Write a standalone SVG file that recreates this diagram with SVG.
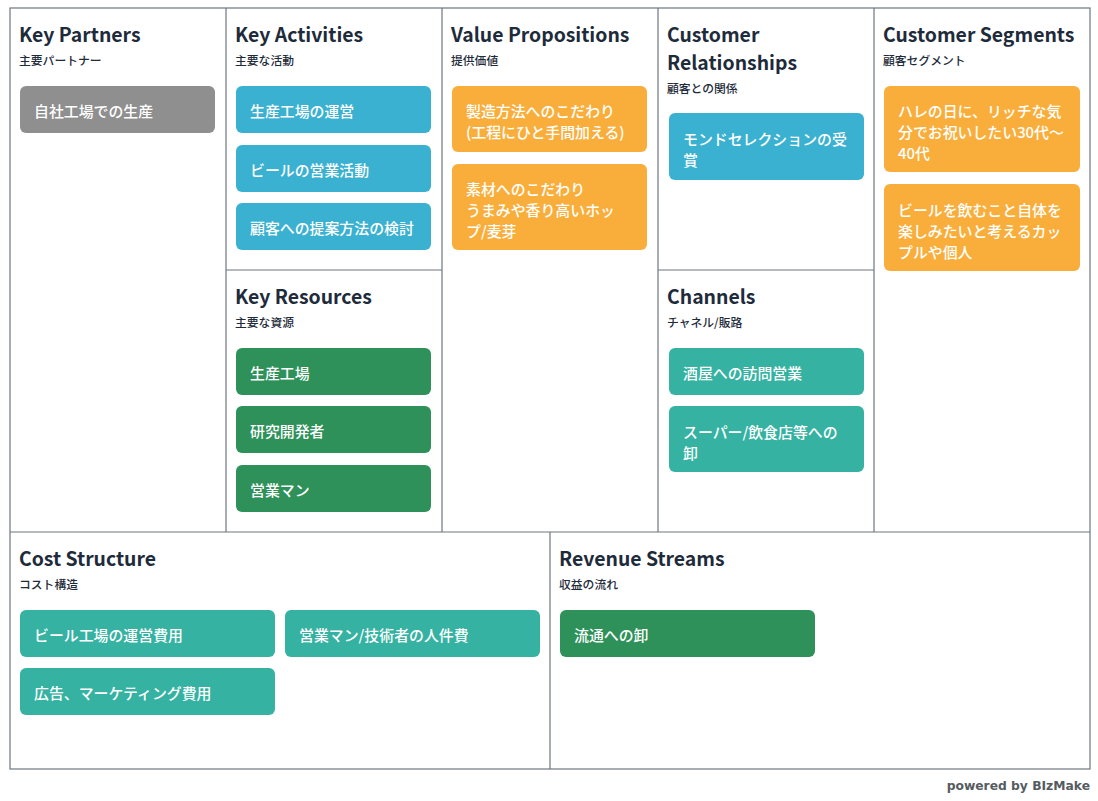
<svg xmlns="http://www.w3.org/2000/svg" width="1098" height="801" viewBox="0 0 1098 801">
<style>
.bg{fill:#ffffff}
.frame{fill:none;stroke:#6e7680;stroke-width:1.2}
.title{font-family:"Noto Sans CJK JP","Noto Sans",sans-serif;font-weight:700;font-size:19.4px;fill:#1e2b3a}
.sub{font-family:"Noto Sans CJK JP",sans-serif;font-weight:500;font-size:11.8px;fill:#1e2b3a}
.card text{font-family:"Noto Sans CJK JP",sans-serif;font-weight:500;font-size:14.9px;fill:#ffffff}
.gray{fill:#8f8f8f}
.blue{fill:#3bb1d1}
.green{fill:#2e9159}
.orange{fill:#f9ae3b}
.teal{fill:#35b2a1}
.pw{font-family:"DejaVu Sans","Noto Sans",sans-serif;font-weight:700;font-size:12.3px;fill:#555b61}
</style>
<rect class="bg" x="0" y="0" width="1098" height="801"/>
<g id="grid">
<rect class="frame" x="10" y="8" width="1080" height="761"/>
<line class="frame" x1="226" y1="8" x2="226" y2="532"/>
<line class="frame" x1="442" y1="8" x2="442" y2="532"/>
<line class="frame" x1="658" y1="8" x2="658" y2="532"/>
<line class="frame" x1="874" y1="8" x2="874" y2="532"/>
<line class="frame" x1="226" y1="270" x2="442" y2="270"/>
<line class="frame" x1="658" y1="270" x2="874" y2="270"/>
<line class="frame" x1="10" y1="532" x2="1090" y2="532"/>
<line class="frame" x1="550" y1="532" x2="550" y2="769"/>
</g>

<g id="key-partners">
<text class="title" x="19" y="42">Key Partners</text>
<text class="sub" x="19" y="65">主要パートナー</text>
<g class="card"><rect class="gray" x="20" y="86" width="195" height="47" rx="6"/><text x="34" y="117">自社工場での生産</text></g>
</g>

<g id="key-activities">
<text class="title" x="235" y="42">Key Activities</text>
<text class="sub" x="235" y="65">主要な活動</text>
<g class="card"><rect class="blue" x="236" y="86" width="195" height="47" rx="6"/><text x="250" y="117">生産工場の運営</text></g>
<g class="card"><rect class="blue" x="236" y="145" width="195" height="47" rx="6"/><text x="250" y="176">ビールの営業活動</text></g>
<g class="card"><rect class="blue" x="236" y="203" width="195" height="47" rx="6"/><text x="250" y="234">顧客への提案方法の検討</text></g>
</g>

<g id="key-resources">
<text class="title" x="235" y="304">Key Resources</text>
<text class="sub" x="235" y="327">主要な資源</text>
<g class="card"><rect class="green" x="236" y="348" width="195" height="47" rx="6"/><text x="250" y="379">生産工場</text></g>
<g class="card"><rect class="green" x="236" y="406" width="195" height="47" rx="6"/><text x="250" y="437">研究開発者</text></g>
<g class="card"><rect class="green" x="236" y="465" width="195" height="47" rx="6"/><text x="250" y="496">営業マン</text></g>
</g>

<g id="value-propositions">
<text class="title" x="451" y="42">Value Propositions</text>
<text class="sub" x="451" y="65">提供価値</text>
<g class="card"><rect class="orange" x="452" y="86" width="195" height="66" rx="6"/><text x="466" y="117">製造方法へのこだわり</text><text x="466" y="138">(工程にひと手間加える)</text></g>
<g class="card"><rect class="orange" x="452" y="164" width="195" height="86" rx="6"/><text x="466" y="195">素材へのこだわり</text><text x="466" y="216">うまみや香り高いホッ</text><text x="466" y="237">プ/麦芽</text></g>
</g>

<g id="customer-relationships">
<text class="title" x="667" y="42">Customer</text>
<text class="title" x="667" y="70">Relationships</text>
<text class="sub" x="667" y="93">顧客との関係</text>
<g class="card"><rect class="blue" x="669" y="113" width="195" height="67" rx="6"/><text x="683" y="145">モンドセレクションの受</text><text x="683" y="166">賞</text></g>
</g>

<g id="channels">
<text class="title" x="667" y="304">Channels</text>
<text class="sub" x="667" y="327">チャネル/販路</text>
<g class="card"><rect class="teal" x="669" y="348" width="195" height="47" rx="6"/><text x="683" y="379">酒屋への訪問営業</text></g>
<g class="card"><rect class="teal" x="669" y="406" width="195" height="66" rx="6"/><text x="683" y="438">スーパー/飲食店等への</text><text x="683" y="459">卸</text></g>
</g>

<g id="customer-segments">
<text class="title" x="883" y="42">Customer Segments</text>
<text class="sub" x="883" y="65">顧客セグメント</text>
<g class="card"><rect class="orange" x="884" y="86" width="196" height="86" rx="6"/><text x="898" y="117">ハレの日に、リッチな気</text><text x="898" y="138">分でお祝いしたい30代～</text><text x="898" y="159">40代</text></g>
<g class="card"><rect class="orange" x="884" y="184" width="196" height="87" rx="6"/><text x="898" y="216">ビールを飲むこと自体を</text><text x="898" y="237">楽しみたいと考えるカッ</text><text x="898" y="258">プルや個人</text></g>
</g>

<g id="cost-structure">
<text class="title" x="19" y="566">Cost Structure</text>
<text class="sub" x="19" y="589">コスト構造</text>
<g class="card"><rect class="teal" x="20" y="610" width="255" height="47" rx="6"/><text x="34" y="641">ビール工場の運営費用</text></g>
<g class="card"><rect class="teal" x="285" y="610" width="255" height="47" rx="6"/><text x="299" y="641">営業マン/技術者の人件費</text></g>
<g class="card"><rect class="teal" x="20" y="668" width="255" height="47" rx="6"/><text x="34" y="699">広告、マーケティング費用</text></g>
</g>

<g id="revenue-streams">
<text class="title" x="559" y="566">Revenue Streams</text>
<text class="sub" x="559" y="589">収益の流れ</text>
<g class="card"><rect class="green" x="560" y="610" width="255" height="47" rx="6"/><text x="574" y="641">流通への卸</text></g>
</g>

<g id="connectors"></g>

<text class="pw" x="1090" y="790" text-anchor="end">powered by BIzMake</text>
</svg>
